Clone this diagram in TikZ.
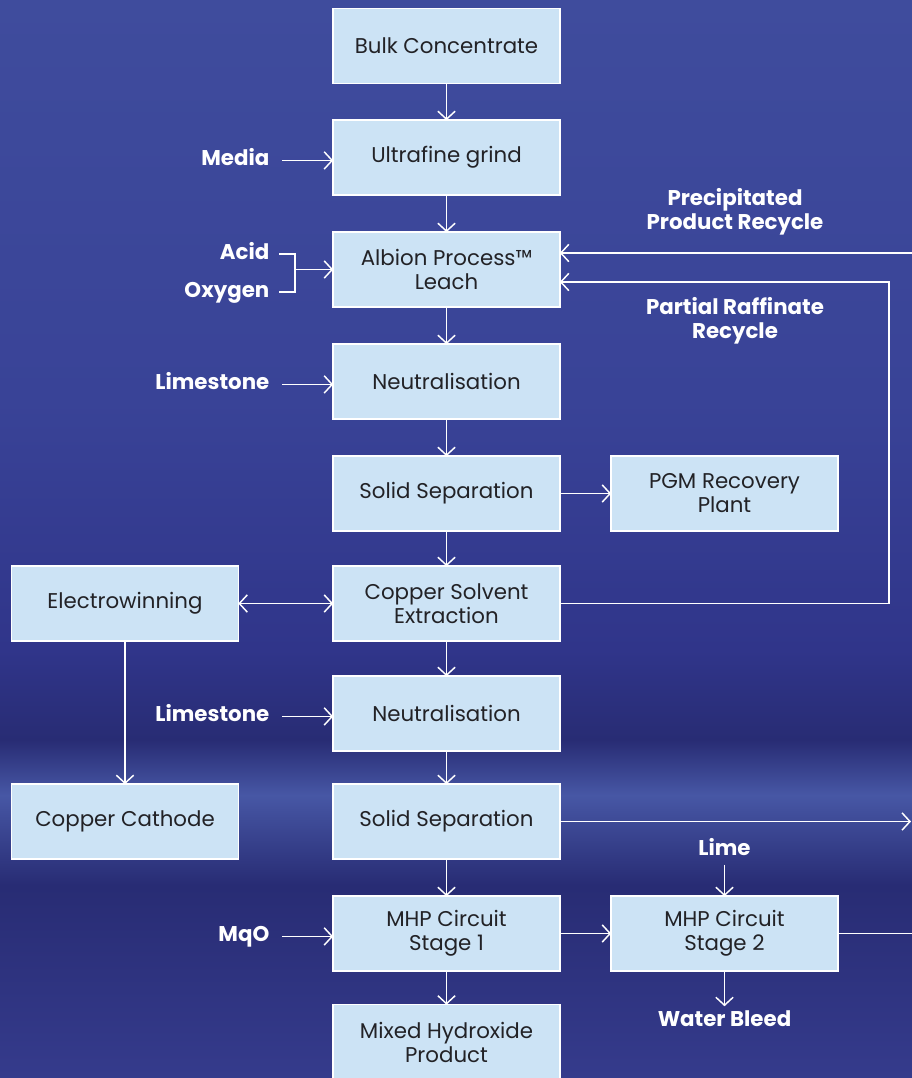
\documentclass[tikz,border=0pt]{standalone}
\usepackage{fontspec}
\setmainfont{Poppins}
\usetikzlibrary{arrows.meta, positioning}

\definecolor{boxfill}{HTML}{CCE3F5}
\definecolor{boxtext}{HTML}{222226}
\definecolor{bgA}{HTML}{3F4C9D}
\definecolor{bgB}{HTML}{394397}
\definecolor{bgC}{HTML}{30358A}
\definecolor{bgD}{HTML}{282C74}
\definecolor{bgE}{HTML}{4757A5}
\definecolor{bgF}{HTML}{353B8C}

\begin{document}
\begin{tikzpicture}[x=0.75pt, y=-0.75pt,
    stage/.style={draw=white, fill=boxfill, line width=1.1pt, minimum width=170pt,
      minimum height=56pt, align=center, text=boxtext, inner sep=2pt, outer sep=0pt,
      font=\fontsize{16}{18}\selectfont},
    note/.style={text=white, align=center, font=\fontsize{16}{18}\selectfont\bfseries},
    feed/.style={note, text height=11.5pt, text depth=3.5pt, yshift=-2.2pt},
    line/.style={draw=white, line width=1.1pt},
    flow/.style={line, -{Straight Barb[length=6pt,width=13pt]}}]

    \useasboundingbox (0,0) rectangle (912,1078);

    % background
    \fill[top color=bgA, bottom color=bgB] (0,0) rectangle (912,400);
    \fill[top color=bgB, bottom color=bgC] (0,400) rectangle (912,650);
    \fill[top color=bgC, bottom color=bgD] (0,650) rectangle (912,740);
    \fill[top color=bgD, bottom color=bgE] (0,740) rectangle (912,795);
    \fill[top color=bgE, bottom color=bgD] (0,795) rectangle (912,885);
    \fill[top color=bgD, bottom color=bgF] (0,885) rectangle (912,1078);

    % main column
    \node[stage] (bulk) at (446.5,46) {Bulk Concentrate};
    \node[stage] (grind) at (446.5,157.5) {Ultrafine grind};
    \node[stage] (leach) at (446.5,269.5) {Albion Process™\\Leach};
    \node[stage] (neut1) at (446.5,381.5) {Neutralisation};
    \node[stage] (sep1) at (446.5,493.5) {Solid Separation};
    \node[stage] (cusx) at (446.5,603.5) {Copper Solvent\\Extraction};
    \node[stage] (neut2) at (446.5,713.5) {Neutralisation};
    \node[stage] (sep2) at (446.5,821.5) {Solid Separation};
    \node[stage] (mhp1) at (446.5,933.5) {MHP Circuit\\Stage 1};
    \node[stage] (mhp) at (446.5,1042) {Mixed Hydroxide\\Product};

    % side boxes
    \node[stage] (pgm) at (724.5,493.5) {PGM Recovery\\Plant};
    \node[stage] (mhp2) at (724.5,933.5) {MHP Circuit\\Stage 2};
    \node[stage] (ew) at (125,603.5) {Electrowinning};
    \node[stage] (cathode) at (125,821.5) {Copper Cathode};

    % feeds and labels
    \node[feed, anchor=east] (media) at (274,157.5) {Media};
    \node[feed, anchor=east] (acid) at (274,251) {Acid};
    \node[feed, anchor=east] (oxygen) at (274,289) {Oxygen};
    \node[feed, anchor=east] (lime1) at (274,381.5) {Limestone};
    \node[feed, anchor=east] (lime2) at (274,713.5) {Limestone};
    \node[feed, anchor=east] (mgo) at (274,933.5) {MqO};
    \node[feed] (lime) at (724.5,847) {Lime};
    \node[feed] (bleed) at (724.5,1018) {Water Bleed};
    \node[note] (prectext) at (735,211.5) {Precipitated\\Product Recycle};
    \node[note] (rafftext) at (735,320.5) {Partial Raffinate\\Recycle};

    \coordinate (join) at (295,269.5);
    \coordinate (precin) at (912,253);
    \coordinate (raffcorner) at (889,282);
    \coordinate (tailout) at (911,821.5);
    \coordinate (stage2out) at (912,933.5);

    \foreach \a/\b in {bulk/grind, grind/leach, leach/neut1, neut1/sep1, sep1/cusx,
        cusx/neut2, neut2/sep2, sep2/mhp1, mhp1/mhp}
        \draw[flow] (\a) -- (\b);

    \draw[flow] ([xshift=6]media.east) -- (media.east -| grind.west);
    \draw[line] ([xshift=4]acid.east) -| (join);
    \draw[line] ([xshift=4]oxygen.east) -| (join);
    \draw[flow] (join) -- (join -| leach.west);
    \draw[flow] ([xshift=6]lime1.east) -- (lime1.east -| neut1.west);
    \draw[flow] ([xshift=6]lime2.east) -- (lime2.east -| neut2.west);
    \draw[flow] ([xshift=6]mgo.east) -- (mgo.east -| mhp1.west);

    % recycles
    \draw[flow] (precin) -- (precin -| leach.east);
    \draw[flow] (cusx.east) -| (raffcorner) -- (raffcorner -| leach.east);

    \draw[flow] (sep1.east) -- (pgm.west);
    \draw[line, {Straight Barb[length=6pt,width=13pt]}-{Straight Barb[length=6pt,width=13pt]}] (ew.east) -- (cusx.west);
    \draw[flow] (ew.south) -- (cathode.north);
    \draw[flow] (sep2.east) -- (tailout);
    \draw[flow] (mhp1.east) -- (mhp2.west);
    \draw[line] (mhp2.east) -- (stage2out);
    \draw[flow] (lime.south) -- (mhp2.north);
    \draw[flow] (mhp2.south) -- (bleed.north);
\end{tikzpicture}
\end{document}
